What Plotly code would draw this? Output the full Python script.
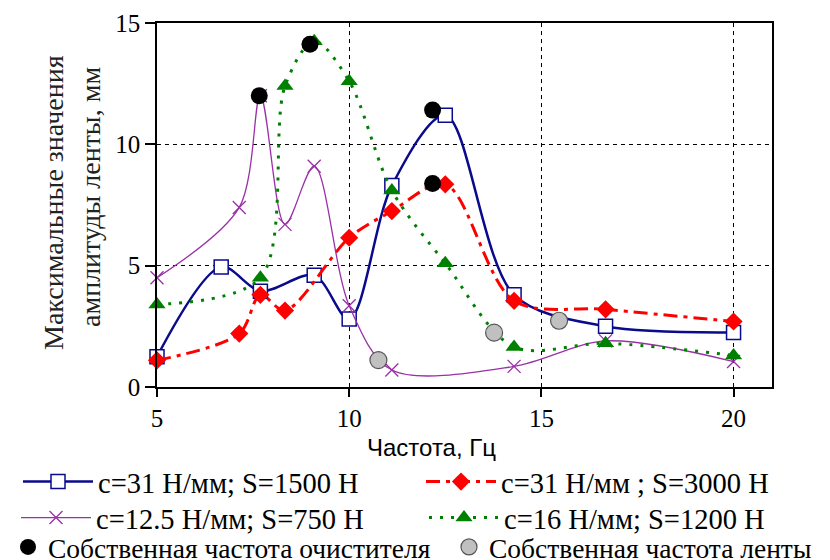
import plotly.graph_objects as go

# Frequencies, Hz
freq = [5, 6.67, 7.14, 7.69, 8.33, 9.09, 10, 11.11, 12.5, 14.29, 16.67, 20]

blue_c31_s1500 = [1.25, 4.95, None, 3.95, None, 4.6, 2.8, 8.3, 11.2, 3.8, 2.5, 2.25]
red_c31_s3000 = [1.1, None, 2.2, 3.8, 3.15, None, 6.15, 7.25, 8.35, 3.55, 3.2, 2.7]
purple_c125_s750 = [4.5, None, 7.4, 12.0, 6.7, 9.1, 3.35, 0.7, None, 0.85, 1.9, 1.05]
green_c16_s1200 = [3.4, None, None, 4.5, 12.4, 14.25, 12.6, 8.1, 5.1, 1.65, 1.8, 1.3]

cleaner_freq_x = [7.66, 8.98, 12.17, 12.17]
cleaner_freq_y = [12.0, 14.12, 11.41, 8.39]
belt_freq_x = [10.76, 13.77, 15.46]
belt_freq_y = [1.11, 2.24, 2.73]

names = ["c=31 Н/мм; S=1500 Н", "c=31 Н/мм ; S=3000 Н", "c=12.5 Н/мм; S=750 Н",
         "c=16 Н/мм; S=1200 Н", "Собственная частота очистителя", "Собственная частота ленты"]

x_ticks = [5, 10, 15, 20]
y_ticks = [0, 5, 10, 15]

SERIF = "Times New Roman, Liberation Serif, serif"

fig = go.Figure()
fig.add_trace(go.Scatter(x=freq, y=blue_c31_s1500, name=names[0], mode="lines+markers",
                         connectgaps=True, cliponaxis=False,
                         line=dict(color="#0a0a8c", width=2.5, shape="spline", smoothing=0.9),
                         marker=dict(symbol="square", size=14, color="white",
                                     line=dict(color="#0a0a8c", width=1.5)),
                         legend="legend"))
fig.add_trace(go.Scatter(x=freq, y=red_c31_s3000, name=names[1], mode="lines+markers",
                         connectgaps=True, cliponaxis=False,
                         line=dict(color="#ff0000", width=3, shape="spline", smoothing=0.9,
                                   dash="14px,6px,4px,6px"),
                         marker=dict(symbol="diamond", size=14, color="#ff0000"),
                         legend="legend2"))
fig.add_trace(go.Scatter(x=freq, y=purple_c125_s750, name=names[2], mode="lines+markers",
                         connectgaps=True, cliponaxis=False,
                         line=dict(color="#9b2fa8", width=1.3, shape="spline", smoothing=0.9),
                         marker=dict(symbol="x-thin-open", size=13, color="#9b2fa8",
                                     line=dict(color="#9b2fa8", width=1.3)),
                         legend="legend3"))
fig.add_trace(go.Scatter(x=freq, y=green_c16_s1200, name=names[3], mode="lines+markers",
                         connectgaps=True, cliponaxis=False,
                         line=dict(color="#008000", width=3, shape="spline", smoothing=0.9,
                                   dash="3px,8px"),
                         marker=dict(symbol="triangle-up", size=15, color="#008000"),
                         legend="legend4"))
fig.add_trace(go.Scatter(x=cleaner_freq_x, y=cleaner_freq_y, name=names[4], mode="markers",
                         cliponaxis=False,
                         marker=dict(symbol="circle", size=17, color="black"),
                         legend="legend5"))
fig.add_trace(go.Scatter(x=belt_freq_x, y=belt_freq_y, name=names[5], mode="markers",
                         cliponaxis=False,
                         marker=dict(symbol="circle", size=17, color="#c0c0c0",
                                     line=dict(color="#555555", width=1.2)),
                         legend="legend6"))

OFF = 8  # page body margin in the browser
W, H = 830, 560
PL, PR, PT, PB = 157 - OFF, 58 + OFF, 23 - OFF, 173 + OFF
pw, ph = W - PL - PR, H - PT - PB


def px2paper(px, py):
    # px, py are window pixel positions
    return (px - OFF - PL) / pw, (H - PB - (py - OFF)) / ph


def leg(px, py, iw=70, size=28.5):
    # px is window position of the legend's left edge
    return dict(x=(px - OFF) / W, y=1 - (py - OFF) / H, xref="container", yref="container",
                xanchor="left", yanchor="middle", orientation="h",
                bgcolor="rgba(0,0,0,0)", borderwidth=0, itemwidth=iw,
                font=dict(family=SERIF, size=size, color="black"))


fig.update_layout(
    width=W, height=H,
    margin=dict(l=PL, r=PR, t=PT, b=PB, autoexpand=False),
    plot_bgcolor="white", paper_bgcolor="white",
    showlegend=True,
    legend=leg(18, 482),
    legend2=leg(421, 482),
    legend3=leg(16, 518),
    legend4=leg(424, 518),
    legend5=leg(-6, 547, 30, 27.5),
    legend6=leg(449, 547, 30, 27.5),
    xaxis=dict(range=[5, 21], tickvals=x_ticks, ticktext=[str(v) for v in x_ticks],
               showline=True, linecolor="black", linewidth=1.5, mirror=True,
               ticks="outside", ticklen=8, tickwidth=1.5, tickcolor="black",
               showgrid=True, gridcolor="black", gridwidth=1.2, griddash="4px,4px",
               zeroline=False,
               tickfont=dict(family=SERIF, size=25, color="black")),
    yaxis=dict(range=[0, 15], tickvals=y_ticks, ticktext=[str(v) for v in y_ticks],
               showline=True, linecolor="black", linewidth=1.5, mirror=True,
               ticks="outside", ticklen=10, tickwidth=1.5, tickcolor="black",
               showgrid=True, gridcolor="black", gridwidth=1.2, griddash="4px,4px",
               zeroline=False,
               tickfont=dict(family=SERIF, size=25, color="black")),
)

xt, yt = px2paper(431, 447)
fig.add_annotation(text="Частота, Гц", x=xt, y=yt, xref="paper", yref="paper",
                   showarrow=False, xanchor="center", yanchor="middle",
                   font=dict(family="Liberation Sans", size=24, color="black"))
x1, y1 = px2paper(53, 203)
fig.add_annotation(text="Максимальные значения", x=x1, y=y1, xref="paper", yref="paper",
                   showarrow=False, textangle=-90, xanchor="center", yanchor="middle",
                   font=dict(family=SERIF, size=28, color="#222222"))
x2, y2 = px2paper(90, 197)
fig.add_annotation(text="амплитуды ленты, мм", x=x2, y=y2, xref="paper", yref="paper",
                   showarrow=False, textangle=-90, xanchor="center", yanchor="middle",
                   font=dict(family=SERIF, size=28, color="#222222"))

fig.write_html("out.html")
